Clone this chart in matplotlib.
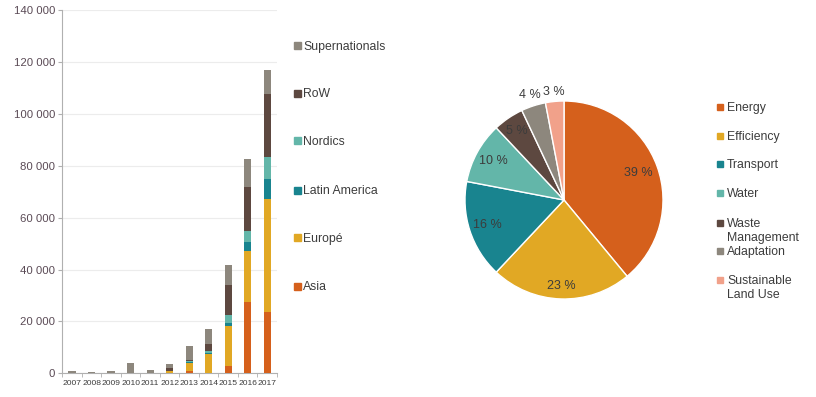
import matplotlib
matplotlib.use('Agg')
import matplotlib.pyplot as plt
import numpy as np
from matplotlib.patches import Rectangle
from matplotlib.ticker import FuncFormatter, MultipleLocator

plt.rcParams['font.family'] = ['Liberation Sans', 'DejaVu Sans']

# bar chart data (values in units shown on axis)
years = ['2007', '2008', '2009', '2010', '2011', '2012', '2013', '2014', '2015', '2016', '2017']
asia = [0, 0, 0, 0, 0, 200, 700, 0, 2900, 27600, 23600]
europe = [0, 0, 0, 0, 0, 800, 3300, 7300, 15400, 19500, 43500]
latam = [0, 0, 0, 0, 0, 0, 300, 400, 900, 3600, 7700]
nordics = [0, 0, 0, 0, 0, 0, 400, 900, 3300, 4100, 8500]
row = [0, 0, 0, 0, 0, 900, 600, 2800, 11500, 16900, 24200]
supra = [900, 500, 1000, 3800, 1300, 1500, 5400, 5600, 7700, 11000, 9200]
region_names = ['Asia', 'Europé', 'Latin America', 'Nordics', 'RoW', 'Supernationals']

# pie chart data
sectors = ['Energy', 'Efficiency', 'Transport', 'Water', 'Waste\nManagement', 'Adaptation',
           'Sustainable\nLand Use']
shares = [39, 23, 16, 10, 5, 4, 3]

c_orange = '#D5601C'
c_gold = '#E1A824'
c_teal = '#19848F'
c_lteal = '#63B6A9'
c_brown = '#5D4840'
c_gray = '#8D877D'
c_salmon = '#F1A18A'
txt = '#3c3c3c'

W, H = 816, 397
fig = plt.figure(figsize=(W / 100, H / 100), dpi=100)

# ---- stacked bars ----
ax = fig.add_axes([62.3 / W, 1 - 373.3 / H, (277 - 62.3) / W, (373.3 - 10) / H])
series = [asia, europe, latam, nordics, row, supra]
bar_colors = [c_orange, c_gold, c_teal, c_lteal, c_brown, c_gray]
x = np.arange(len(years))
bottom = np.zeros(len(years))
for vals, col in zip(series, bar_colors):
    ax.bar(x, vals, width=0.37, bottom=bottom, color=col, zorder=3)
    bottom += np.array(vals)

ax.set_xlim(-0.5, len(years) - 0.5)
ax.set_ylim(0, 140000)
ax.yaxis.set_major_locator(MultipleLocator(20000))
ax.yaxis.set_major_formatter(FuncFormatter(lambda v, p: f'{int(v):,}'.replace(',', ' ')))
ax.set_xticks(x)
ax.set_xticklabels(years, fontsize=6.1, color=txt)
ax.set_xticks(np.arange(-0.5, len(years)), minor=True)
ax.tick_params(axis='x', which='major', length=0, pad=5)
ax.tick_params(axis='x', which='minor', length=3, color='#b0b0b0')
ax.tick_params(axis='y', length=3, color='#b0b0b0', labelsize=8.2, labelcolor='#5a4a55', pad=2)
ax.grid(axis='y', color='#ececec', linewidth=0.8, zorder=0)
for s in ['top', 'right']:
    ax.spines[s].set_visible(False)
ax.spines['left'].set_color('#b0b0b0')
ax.spines['bottom'].set_color('#b0b0b0')


def legend_entry(xm, xt, yy, size, name, col):
    fig.patches.append(Rectangle((xm / W, 1 - (yy + size / 2) / H), size / W, size / H,
                                 transform=fig.transFigure, color=col))
    for i, line in enumerate(name.split('\n')):
        fig.text(xt / W, 1 - (yy + 4.4 + 14 * i) / H, line, fontsize=8.8, color=txt,
                 va='baseline', ha='left')


# bar legend (drawn by hand to match spacing)
leg_y = [286, 238, 190, 141, 93, 45.5]
for name, col, yy in zip(region_names, bar_colors, leg_y):
    legend_entry(294, 303, yy, 7, name, col)

# ---- pie ----
cx, cy, r = 564, 200, 99
side = 2.5 * r
pax = fig.add_axes([(cx - side / 2) / W, 1 - (cy + side / 2) / H, side / W, side / H])
pie_colors = [c_orange, c_gold, c_teal, c_lteal, c_brown, c_gray, c_salmon]
wedges, _ = pax.pie(shares, colors=pie_colors, startangle=90, counterclock=False,
                    wedgeprops=dict(edgecolor='white', linewidth=1))
pax.set_xlim(-1.25, 1.25)
pax.set_ylim(-1.25, 1.25)
pax.set_aspect('equal')

label_dist = [0.80, 0.87, 0.81, 0.81, 0.84, 1.12, 1.10]
for w, pct, d in zip(wedges, shares, label_dist):
    ang = np.deg2rad((w.theta1 + w.theta2) / 2)
    pax.text(d * np.cos(ang), d * np.sin(ang), f'{pct} %', ha='center', va='center',
             fontsize=9, color=txt)

# pie legend
pie_leg_y = [107, 136, 164, 193, 223, 251, 280]
for name, col, yy in zip(sectors, pie_colors, pie_leg_y):
    legend_entry(717, 727, yy, 6, name, col)

fig.savefig('out.png', dpi=100)
